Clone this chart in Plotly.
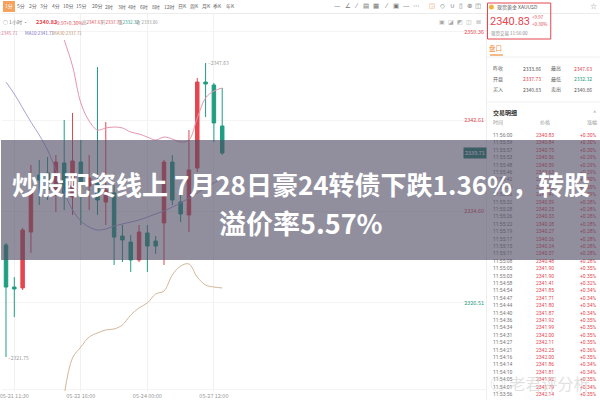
import plotly.graph_objects as go

# ---------------- data ----------------
idx = list(range(27))
open_ = [2331.61, 2327.91, 2327.83, 2332.75, 2337.77, 2337.95, 2336.01, 2338.83, 2335.84, 2338.91,
         2336.80, 2337.07, 2335.39, 2336.19, 2332.40, 2331.87, 2330.29, 2332.67, 2331.96, 2333.55,
         2338.91, 2335.39, 2334.25, 2338.39, 2345.95, 2345.69, 2342.08]
high = [2331.79, 2328.79, 2333.11, 2338.65, 2339.09, 2339.35, 2339.53, 2342.61, 2343.23, 2340.85,
        2339.53, 2347.27, 2342.43, 2336.89, 2333.37, 2332.49, 2333.37, 2333.37, 2332.40, 2339.09,
        2339.53, 2336.01, 2341.73, 2346.31, 2347.63, 2345.87, 2345.43]
low = [2321.75, 2325.27, 2327.65, 2330.91, 2335.13, 2335.57, 2334.51, 2334.69, 2334.25, 2333.37,
       2334.69, 2334.25, 2333.37, 2329.85, 2330.11, 2329.23, 2330.11, 2329.23, 2330.82, 2329.85,
       2335.13, 2333.63, 2332.75, 2338.03, 2342.87, 2340.67, 2339.53]
close = [2327.91, 2327.74, 2332.93, 2336.19, 2337.33, 2336.45, 2338.91, 2336.19, 2339.00, 2337.15,
         2337.51, 2335.57, 2336.45, 2332.31, 2332.05, 2330.29, 2332.75, 2331.52, 2331.52, 2338.91,
         2335.57, 2334.34, 2338.21, 2345.95, 2345.78, 2342.35, 2339.71]

ma5_x = list(range(7, 27))
ma5 = [2349.65, 2347.36, 2344.11, 2342.52, 2341.73, 2341.91, 2341.99, 2341.91, 2341.55, 2341.38,
       2341.11, 2340.85, 2341.11, 2340.94, 2340.67, 2340.85, 2342.79, 2344.55, 2345.16, 2345.43]
ma10_x = list(range(0, 27))
ma10 = [2345.95, 2344.90, 2343.67, 2342.43, 2341.29, 2339.97, 2338.21, 2336.27, 2334.69, 2333.72,
        2333.19, 2332.93, 2333.02, 2333.28, 2333.46, 2333.63, 2333.81, 2334.07, 2334.34, 2334.60,
        2334.95, 2335.31, 2335.75, 2336.19, 2336.63, 2337.07, 2337.51]
ma30_x = list(range(7, 27))
ma30 = [2318.41, 2321.67, 2322.63, 2323.51, 2323.87, 2324.13, 2324.22, 2324.57, 2325.45, 2326.07,
        2326.51, 2327.30, 2327.56, 2328.97, 2329.76, 2329.94, 2328.79, 2328.09, 2327.91, 2327.83]

x_tick_vals = [1, 9, 17, 25]
x_tick_text = ["05-21 11:30", "05-22 16:00", "05-24 00:00", "05-27 12:00"]
y_tick_vals = [2350.36, 2342.61, 2334.60, 2326.51, 2318.85]
y_tick_up = [True, True, True, False, False]

toolbar_labels = ["1分", "5分", "2分", "3分", "4分", "10分", "15分", "20分", "2时", "3时",
                  "4时", "6时", "8时", "12时", "日K", "周K", "月K", "季K", "年K"]
tool_icons = ["—", "∠", "⁄", "▤", "▦", "⁄", "▣", "—", "⋯", "◲", "◇", "∪", "▯", "⊕", "◫"]
tool_icons2 = ["▣", "◪", "◩", "◫", "⊠"]

quote_name = "现货黄金 XAUUSD"
quote_price = "2340.83"
quote_chg = "+9.97"
quote_pct = "+0.30%"
quote_status = "现货交易 11:56:00"
stat_l1 = ["昨收", "开盘", "买入"]
stat_v1 = ["2333.86", "2337.73", "2340.83"]
stat_c1 = ["#555", "#e0454f", "#555"]
stat_l2 = ["最高", "最低", "卖出"]
stat_v2 = ["2347.63", "2332.32", "2340.86"]
stat_c2 = ["#e0454f", "#1f9e82", "#555"]

trade_time = ["11:56:00", "11:55:59", "11:55:57", "11:55:53", "11:55:48", "11:55:46", "11:55:42",
              "11:55:39", "11:55:36", "11:55:32", "11:55:28", "11:55:26", "11:55:22", "11:55:19",
              "11:55:17", "11:55:15", "11:55:11", "11:55:08", "11:55:05", "11:55:03", "11:54:58",
              "11:54:54", "11:54:47", "11:54:44", "11:54:40", "11:54:36", "11:54:34", "11:54:31",
              "11:54:27", "11:54:21", "11:54:16", "11:54:14", "11:54:10", "11:54:05", "11:54:01",
              "11:53:56"]
trade_price = ["2340.83", "2340.84", "2340.75", "2340.56", "2340.59", "2340.63", "2340.71",
               "2340.66", "2340.47", "2340.39", "2340.25", "2340.33", "2340.28", "2340.27",
               "2340.26", "2340.24", "2340.37", "2340.48", "2341.90", "2341.90", "2341.41",
               "2341.85", "2341.71", "2341.80", "2341.87", "2341.92", "2341.99", "2342.00",
               "2342.11", "2342.25", "2342.00", "2341.86", "2341.81", "2341.92", "2341.79",
               "2342.14"]
trade_chg = ["+0.30%", "+0.30%", "+0.30%", "+0.29%", "+0.29%", "+0.29%", "+0.30%", "+0.30%",
             "+0.29%", "+0.28%", "+0.28%", "+0.28%", "+0.28%", "+0.28%", "+0.28%", "+0.28%",
             "+0.28%", "+0.28%", "+0.35%", "+0.35%", "+0.32%", "+0.34%", "+0.34%", "+0.34%",
             "+0.34%", "+0.35%", "+0.35%", "+0.35%", "+0.35%", "+0.36%", "+0.35%", "+0.34%",
             "+0.34%", "+0.35%", "+0.34%", "+0.35%"]

title_line1 = "炒股配资线上 7月28日豪24转债下跌1.36%，转股"
title_line2 = "溢价率5.57%"

# ---------------- layout helpers (pixel -> paper) ----------------
W, H = 600, 400
PL, PR, PT, PB = 0, 487, 14, 391


def X(px):
    return (px - PL) / (PR - PL)


def Y(py):
    return (PB - py) / (PB - PT)


RED = "#e5464f"
GREEN = "#1f9e82"
FONT = "Noto Sans CJK SC"

fig = go.Figure()
fig.add_trace(go.Candlestick(
    x=idx, open=open_, high=high, low=low, close=close,
    increasing=dict(line=dict(color=RED, width=1), fillcolor=RED),
    decreasing=dict(line=dict(color=GREEN, width=1), fillcolor=GREEN),
    showlegend=False))
fig.add_trace(go.Scatter(x=ma10_x, y=ma10, mode="lines", line=dict(color="rgb(170,162,215)", width=1, shape="spline"), showlegend=False))
fig.add_trace(go.Scatter(x=ma5_x, y=ma5, mode="lines", line=dict(color="rgb(228,150,175)", width=1, shape="spline"), showlegend=False))
fig.add_trace(go.Scatter(x=ma30_x, y=ma30, mode="lines", line=dict(color="rgb(212,182,152)", width=1, shape="spline"), showlegend=False))

ytext = []
for v, up in zip(y_tick_vals, y_tick_up):
    c = RED if up else GREEN
    ytext.append(f"<span style='color:{c}'>{v:.2f}</span>")

fig.update_layout(
    width=W, height=H, autosize=False,
    margin=dict(l=PL, r=W - PR, t=PT, b=H - PB, pad=0),
    paper_bgcolor="white", plot_bgcolor="white",
    font=dict(family=FONT, size=6, color="#888"),
    boxgap=0.4,
    xaxis=dict(range=[-0.48, 57.84], tickvals=x_tick_vals, ticktext=x_tick_text,
               showgrid=True, gridcolor="#f1f1f1", zeroline=False, showline=False,
               ticklabeloverflow="allow",
               ticks="", tickfont=dict(size=5.5, color="#999"), rangeslider=dict(visible=False)),
    yaxis=dict(range=[2318.76, 2351.94], side="right", tickvals=y_tick_vals, ticktext=ytext,
               ticklabelposition="inside", showgrid=True, gridcolor="#f4f4f4",
               zeroline=False, showline=False, ticks="", tickfont=dict(size=5.5)),
)

shapes = []
ann = []


def text(px, py, t, size=5.5, color="#666", anchor="left", bold=False, family=FONT):
    if bold:
        t = f"<b>{t}</b>"
    ann.append(dict(x=X(px), y=Y(py), xref="paper", yref="paper", text=t, showarrow=False,
                    xanchor=anchor, yanchor="middle", borderpad=0,
                    font=dict(size=size, color=color, family=family)))


# toolbar
shapes.append(dict(type="line", xref="paper", yref="paper", x0=X(0), x1=X(600), y0=Y(13.5), y1=Y(13.5),
                   line=dict(color="#ececec", width=1)))
shapes.append(dict(type="rect", xref="paper", yref="paper", x0=X(1), x1=X(13), y0=Y(12), y1=Y(1),
                   fillcolor="#f5a25c", line=dict(width=0)))
tb_x = [7, 19, 31, 42, 54, 67, 80, 96, 107, 120, 131, 143, 155, 168, 181, 193, 205, 216, 229]
for i, (lab, px) in enumerate(zip(toolbar_labels, tb_x)):
    text(px, 6.5, lab, size=5, color="white" if i == 0 else "#666", anchor="center")
ic_x = [337, 347, 356, 366, 376, 386, 396, 406, 416, 432, 442, 452, 461, 469, 478]
for g, px in zip(tool_icons, ic_x):
    text(px, 6.5, g, size=6.5, color="#ee9a55" if g == "◲" else "#777", anchor="center", family="DejaVu Sans")
for j, g in enumerate(tool_icons2):
    text(442 + 9 * j, 21, g, size=6, color="#aaa", anchor="center", family="DejaVu Sans")

# quote line
text(0, 22, "○ 1小时 ·", size=5, color="#777")
text(33, 22, "2340.83", size=5.5, color=RED, bold=True)
text(51, 22, "+9.97", size=5, color=RED)
text(63, 22, "+0.30%", size=5, color=RED)
text(79, 22, "高<span style='color:#e5464f'>2347.63</span>", size=4.5, color="#999")
text(98, 22, "开<span style='color:#e5464f'>2337.73</span>", size=4.5, color="#999")
text(115, 22, "低<span style='color:#1f9e82'>2332.32</span>", size=4.5, color="#999")
text(134, 22, "收 2333.86", size=4.5, color="#999")
text(17, 33, "MA5:2345.71", size=4.5, color="rgb(214,120,150)", anchor="right")
text(22, 33, "MA10:2341.71", size=4.5, color="rgb(120,110,200)")
text(50, 33, "MA30:2337.71", size=4.5, color="rgb(190,150,110)")

# extreme labels
ann.append(dict(x=0, y=low[0], xref="x", yref="y", text="–2321.75", showarrow=False, xanchor="left",
                yanchor="middle", xshift=0, font=dict(size=5, color="#999")))
ann.append(dict(x=24, y=high[24], xref="x", yref="y", text="–2347.63", showarrow=False, xanchor="left",
                yanchor="middle", xshift=0, font=dict(size=5, color="#999")))
ann.append(dict(x=X(487), y=close[-1], xref="paper", yref="y", text=f"{close[-1]:.2f}", showarrow=False,
                xanchor="right", yanchor="middle", bgcolor="#1f7f6a", borderpad=1,
                font=dict(size=5.5, color="white")))

# right panel
shapes.append(dict(type="line", xref="paper", yref="paper", x0=X(486.5), x1=X(486.5), y0=Y(14), y1=Y(400),
                   line=dict(color="#eeeeee", width=1)))
shapes.append(dict(type="rect", xref="paper", yref="paper", x0=X(487.5), x1=X(551), y0=Y(39), y1=Y(3),
                   line=dict(color="#e5464f", width=1), fillcolor="rgba(0,0,0,0)"))
shapes.append(dict(type="circle", xref="paper", yref="paper", x0=X(489), x1=X(494), y0=Y(9.5), y1=Y(4.5),
                   fillcolor="#f2b33d", line=dict(width=0)))
text(496, 7, quote_name, size=5, color="#555")
text(489, 21, quote_price, size=11, color=RED, family="Roboto")
text(531, 17, quote_chg, size=4.5, color=RED)
text(531, 24, quote_pct, size=4.5, color=RED)
text(490, 34, quote_status, size=4.5, color="#888")
text(594, 7, "☆", size=8, color="#888", anchor="center", family="DejaVu Sans")
text(496, 48, "盘口", size=6.5, color="#ef8b3a", anchor="center")
shapes.append(dict(type="line", xref="paper", yref="paper", x0=X(490), x1=X(503), y0=Y(55), y1=Y(55),
                   line=dict(color="#ef8b3a", width=1.2)))
shapes.append(dict(type="line", xref="paper", yref="paper", x0=X(487), x1=X(600), y0=Y(57), y1=Y(57),
                   line=dict(color="#f0f0f0", width=1)))
for k in range(3):
    py = 68 + 10.5 * k
    text(492, py, stat_l1[k], size=5, color="#666")
    text(522, py, stat_v1[k], size=5, color=stat_c1[k])
    text(550, py, stat_l2[k], size=5, color="#666")
    text(573, py, stat_v2[k], size=5, color=stat_c2[k])
shapes.append(dict(type="line", xref="paper", yref="paper", x0=X(487), x1=X(600), y0=Y(102), y1=Y(102),
                   line=dict(color="#f0f0f0", width=1)))
text(492, 113, "交易明细", size=6, color="#333", bold=True)
text(595, 113, "^", size=6, color="#999", anchor="center")
text(492, 122, "时间", size=5, color="#999")
text(545, 122, "价格", size=5, color="#999", anchor="center")
text(598, 122, "涨幅", size=5, color="#999", anchor="right")

row_top = 135
row_h = 7.4
for r, (t, p, c) in enumerate(zip(trade_time, trade_price, trade_chg)):
    py = row_top + row_h * r
    text(492, py, t, size=5, color="#777", family="Roboto")
    text(545, py, p, size=5, color=RED, anchor="center", family="Roboto")
    text(598, py, c, size=5, color=RED, anchor="right", family="Roboto")

# watermark
text(540, 383, "◎ 老君评分析", size=16, color="rgba(200,200,200,0.55)", anchor="center")

# banner overlay
ann.append(dict(x=X(300), y=Y(200), xref="paper", yref="paper", text=" ", showarrow=False,
                xanchor="center", yanchor="middle", width=600, height=120, borderpad=0, borderwidth=0,
                bgcolor="rgba(78,74,98,0.62)"))
text(300, 183, title_line1, size=26, color="white", anchor="center", bold=True)
text(300, 222, title_line2, size=27, color="white", anchor="center", bold=True)

fig.update_layout(shapes=shapes, annotations=ann)
fig.write_html("out.html", config={"displayModeBar": False},
               post_script="document.body.style.margin='0';document.body.style.overflow='hidden';")
